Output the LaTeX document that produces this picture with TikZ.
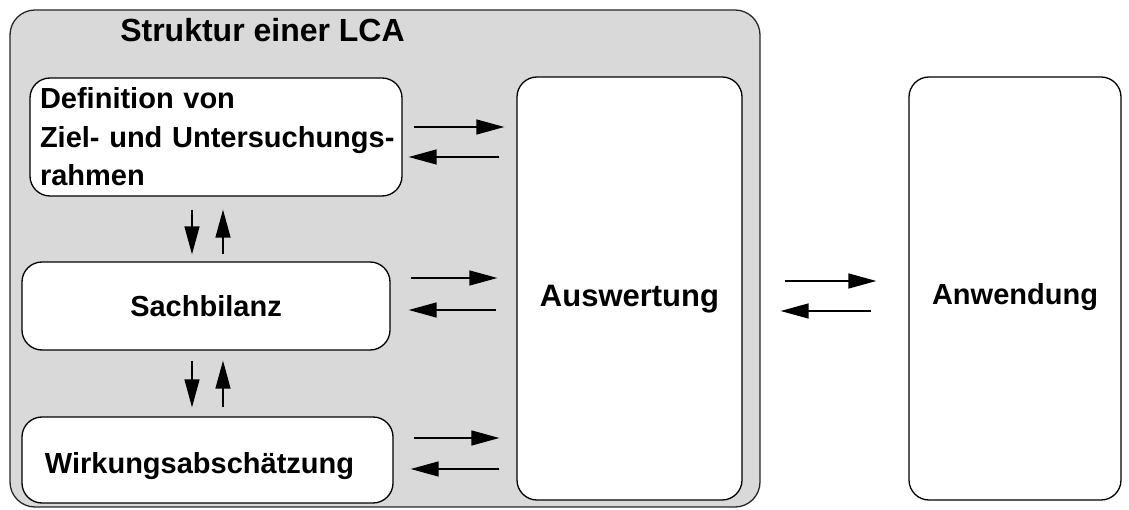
\documentclass[tikz,border=0pt]{standalone}
\usepackage{fontspec}
\setmainfont{Liberation Sans}
\usetikzlibrary{arrows.meta}
\definecolor{panelgray}{HTML}{D9D9D9}
\begin{document}
\begin{tikzpicture}[x=1pt,y=-1pt,
  txt/.style={font=\bfseries\fontsize{29}{38.5}\selectfont},
  box/.style={draw=black, line width=1.3pt, fill=white, rounded corners=20pt, inner sep=0pt, txt},
  arr/.style={line width=1.4pt, -{Triangle[length=28pt,width=15pt]}}]
\useasboundingbox (0,0) rectangle (1129,510);
\node[draw=black!85, line width=1.3pt, fill=panelgray, rounded corners=25pt,
      minimum width=750pt, minimum height=497pt] (outer) at (385,258.5) {};
\node[font=\bfseries\fontsize{32}{38}\selectfont] (title) at (262.5,30) {Struktur einer LCA};
\node[box, minimum width=372pt, minimum height=118pt, inner xsep=7pt, text width=358pt, align=left] (b1) at (216,137)
  {\hspace*{3pt}Definition von\\\hspace*{3pt}Ziel- und Untersuchungs-\\\hspace*{3pt}rahmen};
\node[box, minimum width=368pt, minimum height=88pt] (b2) at (206,306) {Sachbilanz};
\node[box, minimum width=371pt, minimum height=86pt, text height=30pt, text depth=4pt] (b3) at (207.5,460) {Wirkungsabschätzung\hspace*{16pt}};
\node[box, minimum width=225pt, minimum height=423pt, font=\bfseries\fontsize{31}{37}\selectfont,
      text height=43pt, text depth=6pt] (ausw) at (629.5,288.5) {Auswertung};
\node[box, minimum width=212pt, minimum height=423pt, text height=39pt, text depth=6pt] (anw) at (1015,288.5) {Anwendung};
% box1 <-> Auswertung
\draw[arr, shorten <=11pt, shorten >=12pt] (b1.east |- 0,127) -- (ausw.west |- 0,127);
\draw[arr, shorten <=17pt, shorten >=6pt] (ausw.west |- 0,157) -- (b1.east |- 0,157);
% box2 <-> Auswertung
\draw[arr, shorten <=20pt, shorten >=19pt] (b2.east |- 0,278) -- (ausw.west |- 0,278);
\draw[arr, shorten <=20pt, shorten >=18pt] (ausw.west |- 0,310) -- (b2.east |- 0,310);
% box3 <-> Auswertung
\draw[arr, shorten <=20pt, shorten >=17pt] (b3.east |- 0,438) -- (ausw.west |- 0,438);
\draw[arr, shorten <=17pt, shorten >=17pt] (ausw.west |- 0,469) -- (b3.east |- 0,469);
% vertical box1 <-> box2
\draw[arr, shorten <=13pt, shorten >=7pt] (b1.south -| 192,0) -- (b2.north -| 192,0);
\draw[arr, shorten <=7pt, shorten >=13pt] (b2.north -| 223,0) -- (b1.south -| 223,0);
% vertical box2 <-> box3
\draw[arr, shorten <=10pt, shorten >=9pt] (b2.south -| 192,0) -- (b3.north -| 192,0);
\draw[arr, shorten <=9pt, shorten >=10pt] (b3.north -| 223,0) -- (b2.south -| 223,0);
% Auswertung <-> Anwendung
\draw[arr, shorten <=42pt, shorten >=32pt] (ausw.east |- 0,281) -- (anw.west |- 0,281);
\draw[arr, shorten <=37pt, shorten >=38pt] (anw.west |- 0,311) -- (ausw.east |- 0,311);
\end{tikzpicture}
\end{document}
